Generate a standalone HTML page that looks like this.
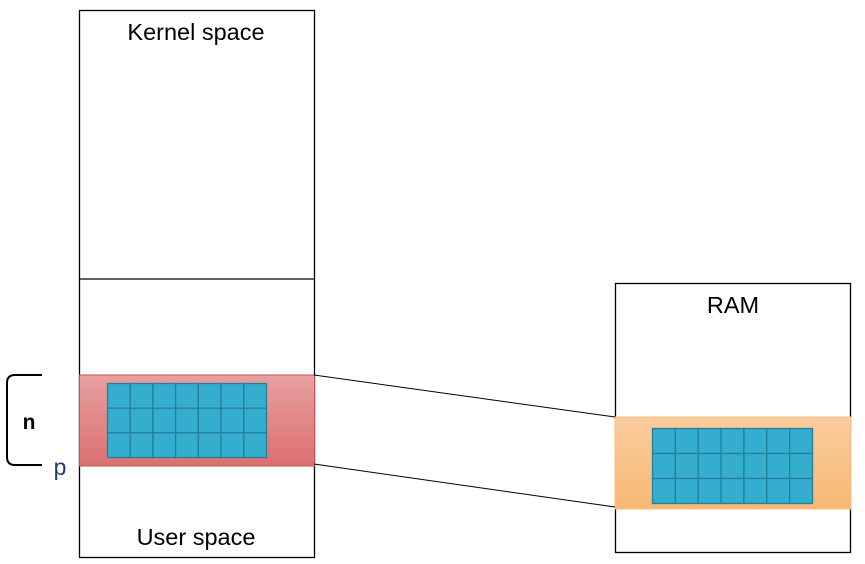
<!DOCTYPE html>
<html><head><meta charset="utf-8"><style>body{margin:0;background:#fff}svg{display:block;font-family:"Liberation Sans",sans-serif}</style></head><body>
<svg width="865" height="564" viewBox="0 0 865 564">
<defs>
<linearGradient id="red" x1="0" y1="0" x2="0" y2="1"><stop offset="0" stop-color="#e8a0a0"/><stop offset="1" stop-color="#dc7070"/></linearGradient>
<linearGradient id="org" x1="0" y1="0" x2="0" y2="1"><stop offset="0" stop-color="#f9cc9e"/><stop offset="1" stop-color="#f8b874"/></linearGradient>
</defs>
<rect x="79.5" y="10.5" width="235" height="547" fill="#fff" stroke="#000" stroke-width="1.3"/>
<line x1="79" y1="279" x2="314" y2="279" stroke="#000" stroke-width="1.3"/>
<text x="196" y="40" font-size="23.5" text-anchor="middle">Kernel space</text>
<text x="196" y="545" font-size="23.5" text-anchor="middle">User space</text>
<rect x="79.5" y="375" width="235" height="91" fill="url(#red)" stroke="#c85050" stroke-width="1"/>
<g id="g1"></g>
<rect x="615.5" y="283.5" width="235" height="269" fill="#fff" stroke="#000" stroke-width="1.3"/>
<text x="733" y="313" font-size="23.5" text-anchor="middle">RAM</text>
<rect x="615" y="417" width="236" height="92" fill="url(#org)" stroke="#f5c080" stroke-width="1"/>
<g id="g2"></g>
<line x1="314" y1="375" x2="615" y2="417" stroke="#000" stroke-width="1"/>
<line x1="314" y1="464" x2="615" y2="507" stroke="#000" stroke-width="1"/>
<path d="M42,375 L15,375 Q7,375 7,383 L7,457 Q7,465 15,465 L42,465" fill="none" stroke="#000" stroke-width="2"/>
<text x="29" y="429" font-size="21" font-weight="bold" text-anchor="middle">n</text>
<text x="60" y="475" font-size="23" fill="#1f3a7a" text-anchor="middle">p</text>
</svg>
<script>
function grid(id,x,y,w,h){var g=document.getElementById(id);var cw=w/7,ch=h/3;
for(var r=0;r<3;r++)for(var c=0;c<7;c++){var e=document.createElementNS('http://www.w3.org/2000/svg','rect');


e.setAttribute('x',x+c*cw);e.setAttribute('y',y+r*ch);e.setAttribute('width',cw);e.setAttribute('height',ch);
e.setAttribute('fill','#35adcf');e.setAttribute('stroke','#23809b');e.setAttribute('stroke-width','1.3');g.appendChild(e);}}
grid('g1',107.5,383.5,159,74);grid('g2',652.5,428.5,160,75);
</script>
</body></html>
